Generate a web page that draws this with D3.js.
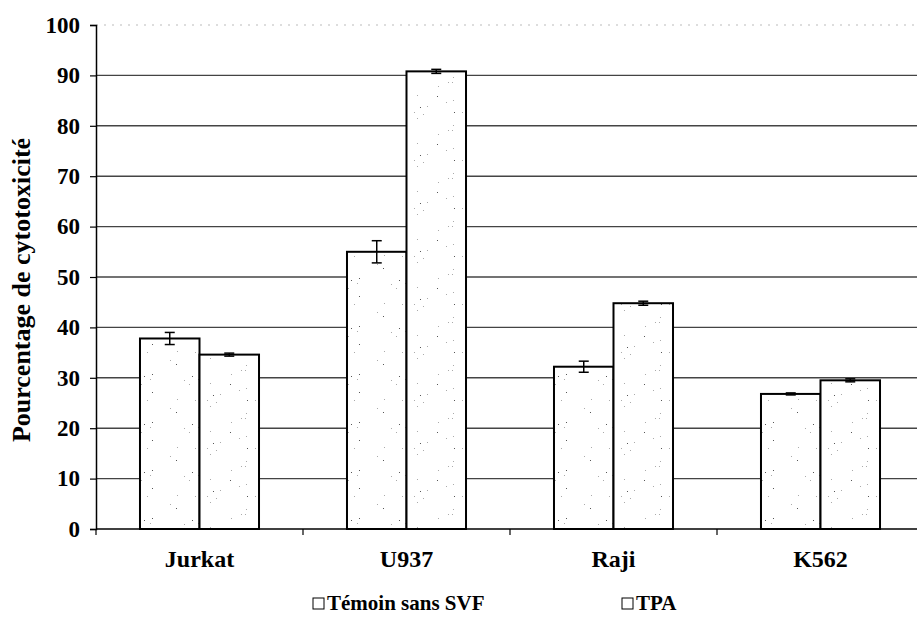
<!DOCTYPE html>
<html>
<head>
<meta charset="utf-8">
<script src="https://cdn.jsdelivr.net/npm/d3@7"></script>
<style>
  body { margin: 0; background: #fff; }
</style>
</head>
<body>
<div id="chart"></div>
<script>
// data
var categories = ["Jurkat", "U937", "Raji", "K562"];
var series = ["Témoin sans SVF", "TPA"];
var temoinValues = [37.8, 55.0, 32.2, 26.8];
var temoinErrors = [1.2, 2.2, 1.1, 0.2];
var tpaValues = [34.6, 90.8, 44.8, 29.5];
var tpaErrors = [0.3, 0.4, 0.4, 0.3];
var yTicks = [0, 10, 20, 30, 40, 50, 60, 70, 80, 90, 100];

var width = 917, height = 617;
var plotLeft = 96, plotTop = 25, plotBottom = 529, plotRight = 924;
var fontFam = "'Liberation Serif', serif";

var rows = categories.map(function (c, i) {
  return {
    cat: c,
    vals: [
      { s: 0, v: temoinValues[i], e: temoinErrors[i] },
      { s: 1, v: tpaValues[i], e: tpaErrors[i] }
    ]
  };
});

var svg = d3.select("#chart").append("svg")
  .attr("width", width)
  .attr("height", height)
  .style("overflow", "hidden");

// speckled fill like the printed figure
var defs = svg.append("defs");
function speckle(id, n, seed) {
  var p = defs.append("pattern").attr("id", id)
    .attr("patternUnits", "userSpaceOnUse").attr("width", 48).attr("height", 48);
  p.append("rect").attr("width", 48).attr("height", 48).attr("fill", "#fff");
  var s = seed;
  function rnd() { s = (s * 16807) % 2147483647; return s / 2147483647; }
  for (var k = 0; k < n; k++) {
    p.append("rect").attr("x", Math.floor(rnd() * 48)).attr("y", Math.floor(rnd() * 48))
      .attr("width", 1).attr("height", 1)
      .attr("fill", rnd() > 0.6 ? "#555" : "#aaa");
  }
}
speckle("dots0", 10, 12345);
speckle("dots1", 14, 67891);

var x = d3.scaleBand().domain(categories).range([plotLeft, plotRight])
  .paddingInner(0.425).paddingOuter(0.2125);
var xs = d3.scaleBand().domain([0, 1]).range([0, x.bandwidth()]);
var y = d3.scaleLinear().domain([0, 100]).range([plotBottom, plotTop]);

// gridlines
svg.append("g").selectAll("line")
  .data(yTicks.filter(function (t) { return t > 0; }))
  .enter().append("line")
  .attr("x1", plotLeft).attr("x2", width)
  .attr("y1", function (d) { return y(d); })
  .attr("y2", function (d) { return y(d); })
  .attr("stroke", function (d) { return d === 100 ? "#bbb" : "#444"; })
  .attr("stroke-width", function (d) { return d === 100 ? 1 : 1.4; })
  .attr("stroke-dasharray", function (d) { return d === 100 ? "2,6" : null; });

// bars
var groups = svg.append("g").selectAll("g")
  .data(rows).enter().append("g")
  .attr("transform", function (d) { return "translate(" + x(d.cat) + ",0)"; });

groups.selectAll("rect")
  .data(function (d) { return d.vals; })
  .enter().append("rect")
  .attr("x", function (d) { return xs(d.s); })
  .attr("y", function (d) { return y(d.v); })
  .attr("width", xs.bandwidth())
  .attr("height", function (d) { return y(0) - y(d.v); })
  .attr("fill", function (d) { return "url(#dots" + d.s + ")"; })
  .attr("stroke", "#000")
  .attr("stroke-width", 2);

// error bars
var err = groups.selectAll("g.err")
  .data(function (d) { return d.vals; })
  .enter().append("g").attr("class", "err");
err.append("line")
  .attr("x1", function (d) { return xs(d.s) + xs.bandwidth() / 2; })
  .attr("x2", function (d) { return xs(d.s) + xs.bandwidth() / 2; })
  .attr("y1", function (d) { return y(d.v + d.e); })
  .attr("y2", function (d) { return y(d.v - d.e); })
  .attr("stroke", "#000").attr("stroke-width", 1.5);
[1, -1].forEach(function (sign) {
  err.append("line")
    .attr("x1", function (d) { return xs(d.s) + xs.bandwidth() / 2 - 5; })
    .attr("x2", function (d) { return xs(d.s) + xs.bandwidth() / 2 + 5; })
    .attr("y1", function (d) { return y(d.v + sign * d.e); })
    .attr("y2", function (d) { return y(d.v + sign * d.e); })
    .attr("stroke", "#000").attr("stroke-width", 1.5);
});

// y axis
var yAxis = svg.append("g")
  .attr("transform", "translate(" + plotLeft + ",0)")
  .call(d3.axisLeft(y).tickValues(yTicks).tickSize(6).tickPadding(10));
yAxis.attr("font-family", null).attr("font-size", null);
yAxis.select(".domain").attr("stroke", "#000").attr("stroke-width", 1.5);
yAxis.selectAll(".tick line").attr("stroke", "#000").attr("stroke-width", 1.2);
yAxis.selectAll("text")
  .style("font-family", fontFam).style("font-weight", "bold").style("font-size", "23px");

// x axis
svg.append("line")
  .attr("x1", plotLeft).attr("x2", width)
  .attr("y1", y(0)).attr("y2", y(0))
  .attr("stroke", "#000").attr("stroke-width", 1.5);
var gap = x.step() - x.bandwidth();
svg.append("g").selectAll("line")
  .data(categories)
  .enter().append("line")
  .attr("x1", function (d) { return x(d) - gap / 2; })
  .attr("x2", function (d) { return x(d) - gap / 2; })
  .attr("y1", y(0)).attr("y2", y(0) + 6)
  .attr("stroke", "#000").attr("stroke-width", 1.2);
svg.append("g").selectAll("text")
  .data(categories)
  .enter().append("text")
  .attr("x", function (d) { return x(d) + x.bandwidth() / 2; })
  .attr("y", 567)
  .attr("text-anchor", "middle")
  .style("font-family", fontFam)
  .style("font-weight", "bold")
  .style("font-size", "24px")
  .text(function (d) { return d; });

// axis title
svg.append("text")
  .attr("transform", "translate(30,290) rotate(-90)")
  .attr("text-anchor", "middle")
  .style("font-family", fontFam)
  .style("font-weight", "bold")
  .style("font-size", "26px")
  .text("Pourcentage de cytotoxicité");

// legend
var legendX = [313, 622];
var legend = svg.append("g").selectAll("g")
  .data(series).enter().append("g")
  .attr("transform", function (d, i) { return "translate(" + legendX[i] + ",605)"; });
legend.append("rect")
  .attr("x", 0).attr("y", -7).attr("width", 11).attr("height", 11)
  .attr("fill", "#fff").attr("stroke", "#000").attr("stroke-width", 1);
legend.append("text")
  .attr("x", 14).attr("y", 5)
  .style("font-family", fontFam)
  .style("font-weight", "bold")
  .style("font-size", "21px")
  .text(function (d) { return d; });
</script>
</body>
</html>
